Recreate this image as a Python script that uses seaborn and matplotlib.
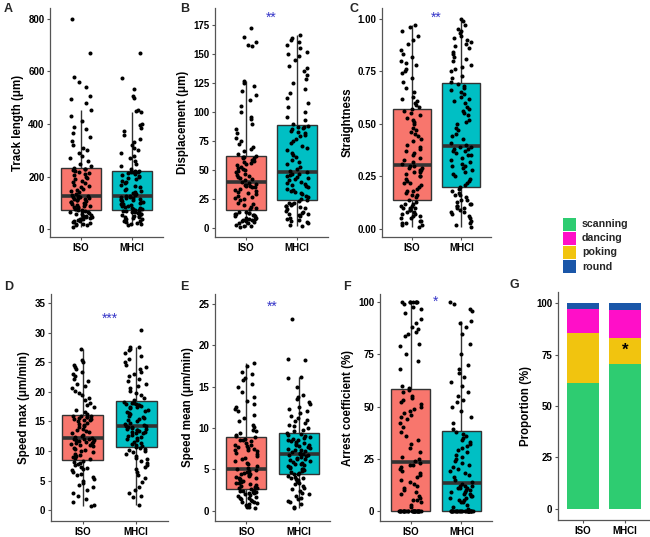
import pandas as pd
import matplotlib.pyplot as plt
import seaborn as sns
from matplotlib.patches import Rectangle

# Groups and colours
groups = ['ISO', 'MHCI']
box_colors = {'ISO': '#F8766D', 'MHCI': '#00BFC4'}

# A - track length (um)
track_iso = [10, 15, 18, 20, 22, 25, 28, 30, 32, 35, 38, 40, 42, 45, 48, 50, 52, 55, 57, 60, 62, 64, 66, 68, 70,
             72, 74, 76, 78, 80, 83, 85, 88, 90, 92, 95, 97, 100, 102, 105, 107, 110, 112, 114, 116, 118, 120, 122, 124, 125,
             128, 132, 136, 140, 145, 150, 155, 160, 165, 170, 175, 180, 185, 190, 195, 200, 205, 210, 214, 218, 222, 225, 228, 230, 232,
             240, 250, 260, 270, 280, 290, 300, 310, 320, 335, 350, 365, 380, 390, 410, 430, 455, 480, 495, 505, 540, 560, 580, 670, 800]
track_mhci = [18, 20, 22, 25, 28, 30, 33, 35, 38, 40, 42, 45, 48, 50, 52, 55, 57, 60, 62, 64, 66, 68, 70, 71, 72,
              74, 76, 78, 80, 82, 85, 87, 90, 92, 95, 97, 100, 102, 105, 107, 110, 112, 114, 116, 118, 120, 122, 124, 125, 126,
              130, 134, 138, 142, 146, 150, 155, 160, 165, 170, 175, 180, 185, 190, 195, 200, 204, 208, 211, 214, 216, 218, 219, 220, 221,
              230, 240, 250, 260, 270, 280, 290, 300, 310, 320, 330, 345, 360, 375, 385, 395, 400, 445, 450, 455, 500, 505, 535, 575, 670]

# B - displacement (um)
disp_iso = [1, 2, 2, 3, 4, 4, 5, 6, 6, 7, 7, 8, 8, 9, 9, 10, 10, 11, 11, 12, 12, 13, 13, 14, 14,
            16, 17, 18, 20, 21, 22, 24, 25, 26, 27, 28, 29, 30, 31, 32, 33, 34, 35, 35, 36, 36, 37, 37, 38, 39,
            40, 41, 42, 43, 44, 45, 46, 47, 48, 49, 50, 51, 52, 53, 54, 55, 56, 57, 58, 59, 60, 60, 61, 61, 62,
            64, 66, 68, 70, 72, 75, 78, 82, 85, 90, 94, 96, 100, 105, 110, 115, 118, 122, 125, 127, 157, 158, 160, 165, 172]
disp_mhci = [2, 3, 4, 5, 6, 7, 8, 9, 10, 11, 12, 12, 13, 14, 15, 16, 17, 18, 19, 19, 20, 21, 22, 22, 23,
             24, 25, 27, 28, 29, 30, 31, 32, 33, 34, 35, 36, 37, 38, 39, 40, 41, 42, 43, 44, 45, 46, 47, 47, 48,
             49, 51, 53, 55, 57, 59, 61, 63, 65, 67, 69, 71, 73, 75, 77, 79, 80, 82, 83, 84, 85, 86, 87, 87, 88,
             90, 93, 96, 100, 104, 108, 112, 116, 120, 125, 128, 132, 135, 138, 140, 145, 148, 150, 152, 155, 158, 160, 162, 164, 166]

# C - straightness
straight_iso = [.01, .02, .02, .03, .03, .04, .04, .05, .05, .06, .06, .07, .07, .08, .08, .09, .09, .10, .10, .10, .11, .11, .12, .12, .13,
                .14, .15, .16, .16, .17, .18, .18, .19, .20, .21, .22, .22, .23, .24, .25, .25, .26, .27, .27, .28, .28, .29, .29, .30, .30,
                .31, .32, .33, .34, .35, .36, .37, .38, .39, .40, .42, .43, .44, .45, .46, .47, .48, .50, .51, .52, .53, .54, .55, .56, .57,
                .58, .59, .60, .61, .62, .63, .65, .67, .70, .72, .74, .75, .76, .78, .79, .80, .82, .83, .85, .88, .90, .92, .94, .96, .97]
straight_mhci = [.01, .02, .03, .04, .05, .06, .07, .08, .08, .09, .10, .10, .11, .11, .12, .12, .13, .14, .14, .15, .16, .16, .17, .18, .19,
                 .20, .21, .22, .23, .24, .25, .26, .27, .28, .29, .30, .30, .31, .32, .33, .34, .35, .35, .36, .37, .37, .38, .38, .39, .39,
                 .40, .41, .43, .44, .45, .47, .48, .50, .51, .52, .54, .55, .56, .57, .58, .60, .61, .62, .63, .64, .65, .66, .67, .68, .69,
                 .70, .72, .73, .75, .76, .77, .78, .80, .81, .82, .83, .84, .86, .87, .88, .89, .90, .91, .92, .93, .94, .95, .97, .99, 1.00]

# D - speed max (um/min)
smax_iso = [0.8, 1.0, 1.5, 2.0, 2.5, 3.0, 3.5, 4.0, 4.3, 4.6, 5.0, 5.3, 5.6, 5.9, 6.2, 6.5, 6.8, 7.0, 7.2, 7.4, 7.6, 7.8, 8.0, 8.2, 8.4,
            8.6, 8.8, 9.0, 9.2, 9.4, 9.6, 9.8, 10.0, 10.2, 10.4, 10.6, 10.8, 11.0, 11.1, 11.2, 11.3, 11.4, 11.5, 11.6, 11.7, 11.8, 11.9, 12.0, 12.0, 12.1,
            12.2, 12.4, 12.6, 12.8, 13.0, 13.2, 13.4, 13.6, 13.8, 14.0, 14.2, 14.4, 14.6, 14.8, 15.0, 15.2, 15.3, 15.4, 15.5, 15.6, 15.7, 15.8, 15.9, 15.9, 16.0,
            16.3, 16.6, 17.0, 17.4, 17.8, 18.2, 18.6, 19.0, 19.4, 19.8, 20.2, 20.6, 21.0, 21.4, 21.8, 22.2, 22.6, 23.0, 23.4, 23.8, 24.2, 24.6, 25.0, 25.3, 27.3]
smax_mhci = [1.0, 2.2, 2.4, 3.0, 3.5, 4.0, 4.8, 5.5, 6.0, 6.5, 7.0, 7.3, 7.6, 8.0, 8.3, 8.6, 8.9, 9.2, 9.5, 9.8, 10.0, 10.2, 10.4, 10.6, 10.7,
             10.8, 11.0, 11.2, 11.4, 11.6, 11.8, 12.0, 12.2, 12.4, 12.6, 12.8, 13.0, 13.1, 13.2, 13.3, 13.4, 13.5, 13.6, 13.7, 13.8, 13.9, 14.0, 14.1, 14.2, 14.2,
             14.4, 14.6, 14.8, 15.0, 15.2, 15.4, 15.6, 15.8, 16.0, 16.2, 16.4, 16.6, 16.8, 17.0, 17.2, 17.4, 17.5, 17.6, 17.7, 17.8, 17.9, 18.0, 18.1, 18.2, 18.3,
             18.6, 19.0, 19.4, 19.8, 20.2, 20.6, 21.0, 21.4, 21.8, 22.2, 22.6, 23.0, 23.4, 23.8, 24.2, 24.6, 25.0, 25.5, 26.0, 26.5, 27.0, 27.2, 27.5, 27.5, 30.4]

# E - speed mean (um/min)
smean_iso = [0.3, 0.4, 0.5, 0.6, 0.7, 0.8, 0.9, 1.0, 1.1, 1.2, 1.3, 1.4, 1.5, 1.6, 1.7, 1.8, 1.9, 2.0, 2.1, 2.2, 2.3, 2.3, 2.4, 2.4, 2.5,
             2.6, 2.7, 2.8, 2.9, 3.0, 3.1, 3.2, 3.3, 3.4, 3.5, 3.6, 3.7, 3.8, 3.9, 4.0, 4.1, 4.2, 4.3, 4.4, 4.5, 4.6, 4.7, 4.8, 4.9, 5.0,
             5.2, 5.4, 5.6, 5.8, 6.0, 6.2, 6.4, 6.6, 6.8, 7.0, 7.2, 7.3, 7.4, 7.5, 7.6, 7.7, 7.8, 7.9, 8.0, 8.2, 8.4, 8.5, 8.6, 8.7, 8.9,
             9.0, 9.2, 9.4, 9.6, 9.8, 10.1, 10.4, 10.8, 11.2, 11.6, 12.0, 12.3, 12.6, 12.9, 13.3, 13.8, 14.4, 15.0, 15.3, 15.8, 16.0, 16.5, 16.8, 17.5, 17.8]
smean_mhci = [0.3, 0.5, 0.8, 1.0, 1.2, 1.4, 1.6, 1.8, 2.0, 2.2, 2.4, 2.6, 2.8, 3.0, 3.2, 3.4, 3.5, 3.6, 3.7, 3.8, 3.9, 4.0, 4.1, 4.2, 4.4,
              4.5, 4.6, 4.7, 4.8, 4.9, 5.0, 5.1, 5.2, 5.3, 5.4, 5.5, 5.6, 5.7, 5.8, 5.9, 6.0, 6.1, 6.2, 6.3, 6.4, 6.5, 6.6, 6.7, 6.7, 6.8,
              6.9, 7.0, 7.1, 7.2, 7.3, 7.4, 7.5, 7.6, 7.7, 7.8, 7.9, 8.0, 8.1, 8.2, 8.3, 8.4, 8.5, 8.6, 8.7, 8.8, 8.9, 9.0, 9.1, 9.3, 9.4,
              9.6, 9.8, 10.0, 10.2, 10.4, 10.6, 10.8, 11.0, 11.2, 11.5, 11.8, 12.0, 12.3, 12.6, 12.9, 13.2, 13.5, 13.8, 14.0, 15.0, 16.0, 16.2, 18.2, 18.3, 23.2]

# F - arrest coefficient (%)
arrest_iso = [0] * 26 + [2, 3, 4, 5, 5, 6, 7, 8, 9, 10, 11, 12, 13, 14, 15, 16, 17, 18, 19, 20, 21, 22, 22, 23,
              24, 25, 26, 28, 30, 32, 34, 36, 38, 40, 42, 44, 45, 46, 47, 48, 49, 50, 51, 52, 53, 54, 55, 57, 58,
              59, 60, 68, 72, 75, 79, 80, 84, 85, 86, 87, 88, 90, 92, 95, 97, 98, 99, 100, 100, 100, 100, 100, 100, 100]
arrest_mhci = [0] * 26 + [1, 2, 3, 4, 4, 5, 5, 6, 6, 7, 7, 8, 8, 9, 9, 10, 10, 11, 11, 11, 12, 12, 12, 13,
               14, 15, 16, 17, 18, 19, 20, 21, 22, 23, 24, 25, 26, 27, 28, 29, 30, 31, 32, 33, 34, 35, 36, 37, 38,
               39, 42, 45, 48, 50, 52, 53, 55, 57, 60, 62, 64, 66, 68, 70, 75, 80, 85, 88, 90, 91, 96, 97, 99, 100]

# G - behaviour proportions (%), stacked bottom to top
behaviours = ['scanning', 'poking', 'dancing', 'round']
scanning = [61.4, 70.5]
poking = [24.1, 12.8]
dancing = [11.8, 13.5]
round_ = [2.7, 3.2]
behav_colors = {'scanning': '#2ECC71', 'dancing': '#FF0FC8', 'poking': '#F1C40F', 'round': '#1A56A8'}

sns.set_style('ticks')
plt.rcParams['font.family'] = ['Liberation Sans', 'DejaVu Sans']
plt.rcParams['axes.edgecolor'] = '#555555'
plt.rcParams['xtick.color'] = '#555555'
plt.rcParams['ytick.color'] = '#555555'

W, H = 650, 537
fig = plt.figure(figsize=(W / 100, H / 100), dpi=100)


def px_axes(left, right, top, bottom):
    return fig.add_axes([left / W, 1 - bottom / H, (right - left) / W, (bottom - top) / H])


def style_axes(ax, ylabel, ylim, yticks, ticklabels=None):
    ax.set_xlim(-0.6, 1.6)
    ax.set_ylim(*ylim)
    ax.set_yticks(yticks)
    if ticklabels is not None:
        ax.set_yticklabels(ticklabels)
    ax.set_xlabel('')
    ax.set_ylabel(ylabel, fontsize=8.3, fontweight='bold', color='black', labelpad=3)
    ax.tick_params(length=2.5, width=0.8, labelsize=7, labelcolor='black', pad=1.5)
    for lab in ax.get_xticklabels() + ax.get_yticklabels():
        lab.set_fontweight('bold')
    for s in ['left', 'bottom']:
        ax.spines[s].set_linewidth(0.9)
    sns.despine(ax=ax)


def box_panel(ax, iso, mhci, ylabel, ylim, yticks, ticklabels=None):
    df = pd.DataFrame({'group': ['ISO'] * len(iso) + ['MHCI'] * len(mhci),
                       'value': iso + mhci})
    sns.boxplot(data=df, x='group', y='value', hue='group', palette=box_colors,
                order=groups, hue_order=groups, width=0.77, saturation=1,
                showfliers=False, showcaps=False, linecolor='#333333', linewidth=1.0,
                medianprops={'color': '#333333', 'linewidth': 2.6}, legend=False, ax=ax)
    sns.stripplot(data=df, x='group', y='value', order=groups, color='black',
                  size=2.9, jitter=0.22, linewidth=0, ax=ax)
    style_axes(ax, ylabel, ylim, yticks, ticklabels)


star_color = '#3535C8'

axA = px_axes(50, 163, 8, 237)
box_panel(axA, track_iso, track_mhci, 'Track length (μm)', (-29.3, 841), [0, 200, 400, 600, 800])

axB = px_axes(215, 328, 8, 237)
box_panel(axB, disp_iso, disp_mhci, 'Displacement (μm)', (-7.7, 189.6), [0, 25, 50, 75, 100, 125, 150, 175])
axB.text(0.5, 181.6, '**', color=star_color, ha='center', va='center', fontsize=10)

axC = px_axes(382, 491, 8, 237)
box_panel(axC, straight_iso, straight_mhci, 'Straightness', (-0.038, 1.051),
          [0, 0.25, 0.5, 0.75, 1.0], ['0.00', '0.25', '0.50', '0.75', '1.00'])
axC.text(0.5, 1.006, '**', color=star_color, ha='center', va='center', fontsize=10)

axD = px_axes(51, 168, 294, 521)
box_panel(axD, smax_iso, smax_mhci, 'Speed max (μm/min)', (-1.78, 36.5), [0, 5, 10, 15, 20, 25, 30, 35])
axD.text(0.5, 32.4, '***', color=star_color, ha='center', va='center', fontsize=10)

axE = px_axes(215, 330, 294, 521)
box_panel(axE, smean_iso, smean_mhci, 'Speed mean (μm/min)', (-1.24, 26.2), [0, 5, 10, 15, 20, 25])
axE.text(0.5, 24.7, '**', color=star_color, ha='center', va='center', fontsize=10)

axF = px_axes(380, 492, 294, 521)
box_panel(axF, arrest_iso, arrest_mhci, 'Arrest coefficient (%)', (-4.9, 104), [0, 25, 50, 75, 100])
axF.text(0.5, 100.5, '*', color=star_color, ha='center', va='center', fontsize=10)

# G - stacked proportions
axG = px_axes(558, 650, 292, 520)
bottom = [0.0, 0.0]
for name, vals in zip(behaviours, [scanning, poking, dancing, round_]):
    axG.bar(groups, vals, bottom=bottom, width=0.78, color=behav_colors[name], linewidth=0)
    bottom = [b + v for b, v in zip(bottom, vals)]
style_axes(axG, 'Proportion (%)', (-5.6, 105.6), [0, 25, 50, 75, 100])
axG.text(1, 77, '*', color='black', ha='center', va='center', fontsize=12, fontweight='bold')

# overlay for panel letters and legend
ov = fig.add_axes([0, 0, 1, 1])
ov.set_xlim(0, W)
ov.set_ylim(H, 0)
ov.axis('off')
ov.patch.set_alpha(0)
for letter, x, y in [('A', 4, 9), ('B', 180, 9), ('C', 349, 9),
                     ('D', 4, 287), ('E', 180, 287), ('F', 343, 287), ('G', 510, 285)]:
    ov.text(x, y, letter, fontsize=9, fontweight='bold', ha='left', va='center')

legend_order = ['scanning', 'dancing', 'poking', 'round']
for i, name in enumerate(legend_order):
    yc = 224 + i * 14.2
    ov.add_patch(Rectangle((563, yc - 6.5), 13, 13, color=behav_colors[name], linewidth=0))
    ov.text(582, yc, name, fontsize=7.7, fontweight='bold', ha='left', va='center')

plt.savefig('out.png', dpi=100)
